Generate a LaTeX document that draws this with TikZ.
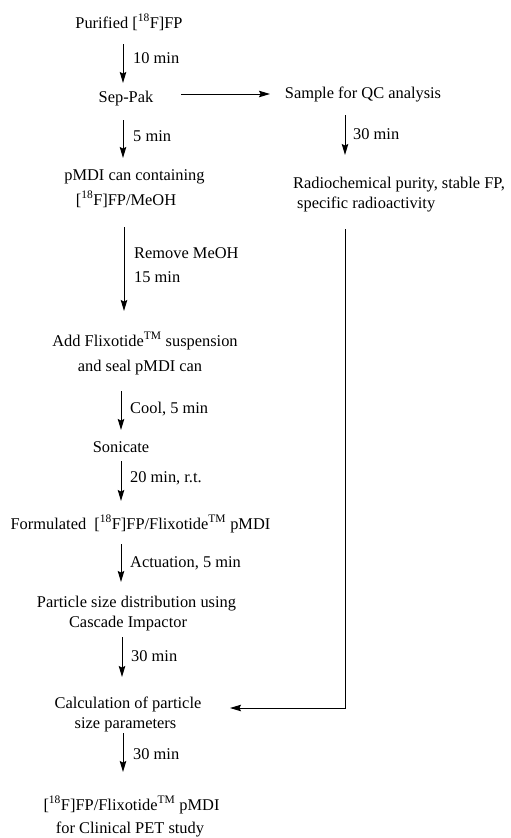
\documentclass[tikz,border=0pt]{standalone}
\usepackage{fontspec}
\setmainfont{Liberation Serif}
\usetikzlibrary{arrows.meta}
\begin{document}
\begin{tikzpicture}[x=1pt,y=-1pt,
  txt/.style={anchor=base,inner sep=0pt,font=\fontsize{16.4}{20}\selectfont},
  txtw/.style={anchor=base west,inner sep=0pt,font=\fontsize{16.4}{20}\selectfont},
  lbl/.style={anchor=base west,inner sep=0pt,font=\fontsize{16.4}{20}\selectfont},
  flow/.style={line width=1pt,-{Stealth[length=11pt,width=6.5pt,inset=1.5pt]}},
  wire/.style={line width=1pt}]
\useasboundingbox (0,0) rectangle (511,838);
% text nodes
\node[txt] (purified) at (129,28) {Purified [\textsuperscript{18}F]FP};
\node[txt] (seppak) at (126,102) {Sep-Pak};
\node[txt] (sample) at (363,98) {Sample for QC analysis};
\node[txtw] (radio1) at (293,188) {Radiochemical purity, stable FP,};
\node[txtw] (radio2) at (297,208) {specific radioactivity};
\node[txt] (pmdi1) at (134.5,180) {pMDI can containing};
\node[txt] (pmdi2) at (126,205) {[\textsuperscript{18}F]FP/MeOH};
\node[txt] (add1) at (145,346) {Add Flixotide\textsuperscript{TM} suspension};
\node[txt] (add2) at (140,371) {and seal pMDI can};
\node[txt] (sonic) at (121,452) {Sonicate};
\node[txt] (form) at (140.5,529) {Formulated\ \ [\textsuperscript{18}F]FP/Flixotide\textsuperscript{TM} pMDI};
\node[txt] (part1) at (136.5,607) {Particle size distribution using};
\node[txt] (part2) at (128,627) {Cascade Impactor};
\node[txt] (calc1) at (128,708) {Calculation of particle};
\node[txt] (calc2) at (125.5,728) {size parameters};
\node[txt] (final1) at (131.5,810) {[\textsuperscript{18}F]FP/Flixotide\textsuperscript{TM} pMDI};
\node[txt] (final2) at (130,833) {for Clinical PET study};
% arrow end points
\coordinate (a1s) at (123,44);  \coordinate (a1e) at (123,83);
\coordinate (a2s) at (123,120); \coordinate (a2e) at (123,158);
\coordinate (a3s) at (124,227); \coordinate (a3e) at (124,311);
\coordinate (a4s) at (121,391); \coordinate (a4e) at (121,430);
\coordinate (a5s) at (121,461); \coordinate (a5e) at (121,501);
\coordinate (a6s) at (121,544); \coordinate (a6e) at (121,582);
\coordinate (a7s) at (122,637); \coordinate (a7e) at (122,677);
\coordinate (a8s) at (123,733); \coordinate (a8e) at (123,772);
\coordinate (h1s) at (181,94);  \coordinate (h1e) at (270,94);
\coordinate (r1s) at (345,115); \coordinate (r1e) at (345,155);
\coordinate (r2s) at (345,229); \coordinate (r2c) at (345,708);
\coordinate (r2e) at (230,708);
% connectors
\draw[flow] (a1s) -- (a1e);
\draw[flow] (a2s) -- (a2e);
\draw[flow] (a3s) -- (a3e);
\draw[flow] (a4s) -- (a4e);
\draw[flow] (a5s) -- (a5e);
\draw[flow] (a6s) -- (a6e);
\draw[flow] (a7s) -- (a7e);
\draw[flow] (a8s) -- (a8e);
\draw[flow] (h1s) -- (h1e);
\draw[flow] (r1s) -- (r1e);
\draw[flow] (r2s) -- (r2c) -- (r2e);
% labels
\node[lbl] (l1) at (133,63) {10 min};
\node[lbl] (l2) at (133,141) {5 min};
\node[lbl] (l3) at (353,139) {30 min};
\node[lbl] (l4) at (134,258) {Remove MeOH};
\node[lbl] (l5) at (134,282) {15 min};
\node[lbl] (l6) at (130,413) {Cool, 5 min};
\node[lbl] (l7) at (130,482) {20 min, r.t.};
\node[lbl] (l8) at (130,567) {Actuation, 5 min};
\node[lbl] (l9) at (131,661) {30 min};
\node[lbl] (l10) at (133,759) {30 min};
\end{tikzpicture}
\end{document}
